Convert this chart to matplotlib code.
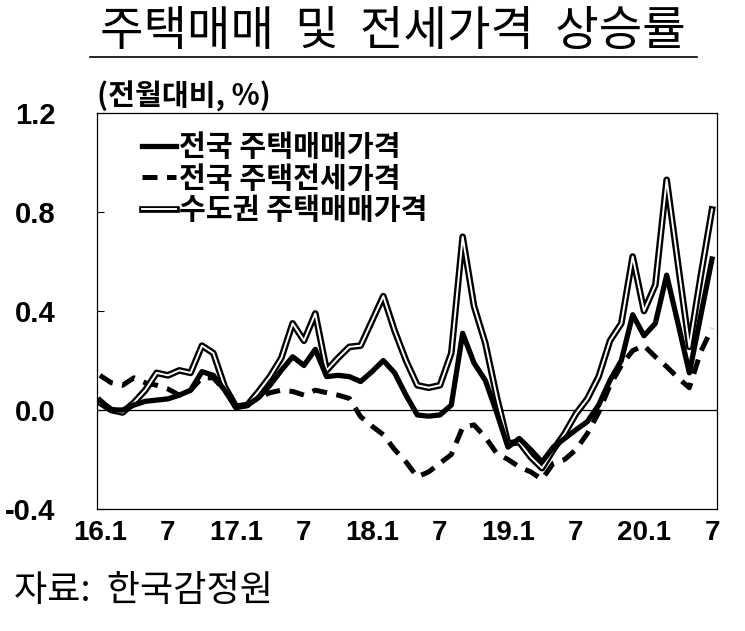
import matplotlib
matplotlib.use('Agg')
import matplotlib.pyplot as plt
import matplotlib.patheffects as pe
from matplotlib.lines import Line2D

KR = ['Noto Sans CJK KR', 'DejaVu Sans']
NUM = ['Liberation Sans Narrow', 'Liberation Sans', 'DejaVu Sans']
plt.rcParams['font.family'] = KR

# 2016.1 ~ 2020.7, 월별 (전월대비 %)
months = list(range(55))
tick_pos = [0, 6, 12, 18, 24, 30, 36, 42, 48, 54]
tick_labels = ['16.1', '7', '17.1', '7', '18.1', '7', '19.1', '7', '20.1', '7']

national_sale = [0.04, 0.00, 0.00, 0.02, 0.035, 0.04, 0.045, 0.06, 0.08, 0.155,
                 0.14, 0.08, 0.01, 0.02, 0.05, 0.10, 0.16, 0.215, 0.18, 0.245,
                 0.135, 0.14, 0.135, 0.115, 0.155, 0.20, 0.15, 0.06, -0.02, -0.025,
                 -0.02, 0.02, 0.31, 0.19, 0.12, -0.01, -0.15, -0.115, -0.16, -0.21,
                 -0.15, -0.115, -0.08, -0.047, 0.02, 0.12, 0.20, 0.385, 0.30, 0.35,
                 0.545, 0.35, 0.15, 0.38, 0.61]
national_jeonse = [0.14, 0.11, 0.10, 0.13, 0.11, 0.10, 0.085, 0.06, 0.08, 0.13,
                   0.13, 0.08, 0.02, 0.02, 0.05, 0.07, 0.08, 0.075, 0.06, 0.08,
                   0.07, 0.06, 0.047, -0.027, -0.065, -0.10, -0.16, -0.21, -0.27, -0.25,
                   -0.215, -0.18, -0.07, -0.06, -0.11, -0.175, -0.20, -0.23, -0.25, -0.28,
                   -0.215, -0.20, -0.16, -0.095, -0.01, 0.10, 0.18, 0.24, 0.26, 0.215,
                   0.175, 0.13, 0.09, 0.235, 0.33]
metro_sale = [0.03, 0.00, -0.01, 0.03, 0.08, 0.15, 0.14, 0.16, 0.15, 0.26,
              0.23, 0.095, 0.013, 0.02, 0.075, 0.135, 0.21, 0.35, 0.28, 0.39,
              0.16, 0.21, 0.255, 0.26, 0.36, 0.46, 0.32, 0.20, 0.10, 0.09,
              0.10, 0.23, 0.70, 0.42, 0.27, 0.055, -0.135, -0.13, -0.19, -0.235,
              -0.16, -0.095, -0.015, 0.045, 0.135, 0.28, 0.35, 0.62, 0.40, 0.505,
              0.93, 0.59, 0.255, 0.54, 0.81]

labels = ['전국 주택매매가격', '전국 주택전세가격', '수도권 주택매매가격']

fig = plt.figure(figsize=(7.45, 6.31), dpi=100)
ax = fig.add_axes([97 / 745, 1 - 509 / 631, 620 / 745, 396 / 631])

ax.axhline(0, color='black', lw=0.9, zorder=1)
ax.plot(months, national_jeonse, color='black', lw=3.6, ls=(0, (3.0, 1.9)),
        label=labels[1], zorder=2)
ax.plot(months, metro_sale, color='white', lw=1.4, label=labels[2], zorder=3,
        path_effects=[pe.Stroke(linewidth=4.8, foreground='black'), pe.Normal()])
ax.plot(months, national_sale, color='black', lw=3.8, label=labels[0], zorder=4)

ax.set_xlim(-0.26, 54.44)
ax.set_ylim(-0.4, 1.2)
ax.set_yticks([-0.4, 0.0, 0.4, 0.8, 1.2])
ax.set_yticklabels(['-0.4', '0.0', '0.4', '0.8', '1.2'], family=NUM,
                   fontsize=21, fontweight='bold')
ax.set_xticks(tick_pos)
ax.set_xticklabels(tick_labels, family=NUM, fontsize=20, fontweight='bold')
ax.tick_params(axis='y', direction='in', length=5, width=0.8, pad=30)
ax.tick_params(axis='x', length=0, pad=8)
for s in ax.spines.values():
    s.set_linewidth(0.9)

h, l = ax.get_legend_handles_labels()
order = [2, 0, 1]
leg = ax.legend([h[i] for i in order], [l[i] for i in order], loc='upper left',
                bbox_to_anchor=(0.04, 1.004), frameon=False, handlelength=1.15,
                handletextpad=0.1, labelspacing=0.06, borderaxespad=0.3,
                prop={'family': KR, 'weight': 'bold', 'size': 21})

fig.text(97 / 745, 1 - 96 / 631, '(전월대비, %)', fontsize=21, fontweight='bold',
         va='center', ha='left')
fig.text(393 / 745, 1 - 32 / 631, '주택매매  및  전세가격  상승률', fontsize=34,
         va='center', ha='center')
fig.add_artist(Line2D([90 / 745, 697 / 745], [1 - 57 / 631, 1 - 57 / 631],
                      color='black', lw=1.2, transform=fig.transFigure))
fig.text(14 / 745, 1 - 591 / 631, '자료:  한국감정원', fontsize=26,
         va='center', ha='left')

fig.savefig('out.png', dpi=100)
